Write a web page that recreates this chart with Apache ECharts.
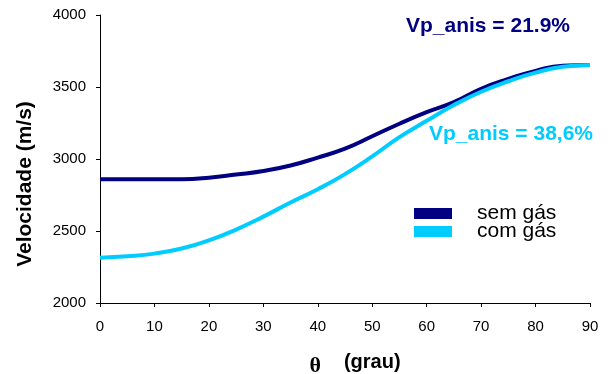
<!DOCTYPE html>
<html>
<head>
<meta charset="utf-8">
<script src="https://cdn.jsdelivr.net/npm/echarts@6/dist/echarts.min.js"></script>
<style>html,body{margin:0;padding:0;background:#fff}#c{width:608px;height:374px}</style>
</head>
<body>
<div id="c"></div>
<script>
var angles = [0,5,10,15,20,25,30,35,40,45,50,55,60,65,70,75,80,85,90];
var semGas = [2860,2860,2860,2860,2870,2892,2917,2955,3010,3072,3158,3245,3325,3395,3488,3556,3612,3648,3652];
var comGas = [2315,2325,2343,2378,2435,2510,2600,2698,2790,2895,3018,3152,3265,3375,3467,3540,3600,3640,3652];
var seriesNames = ['sem gás','com gás'];
var annotations = ['Vp_anis = 21.9%','Vp_anis = 38,6%'];

var F = '"Liberation Sans", Arial, sans-serif';
function pairs(xs, ys){ return xs.map(function(x,i){return [x, ys[i]];}); }
function legendFor(name, top){
  return {
    orient: 'vertical', left: 414, top: top, padding: 0,
    itemWidth: 38, itemHeight: 11, icon: 'rect',
    textStyle: {fontFamily: F, fontSize: 21, color: '#000', padding: [6,0,0,20]},
    data: [name]
  };
}

var chart = echarts.init(document.getElementById('c'));
chart.setOption({
  animation: false,
  grid: {left: 100, right: 18, top: 15, bottom: 71, containLabel: false, outerBoundsMode: 'none'},
  xAxis: {
    type: 'value', min: 0, max: 90, interval: 10,
    axisLine: {show: true, lineStyle: {color: '#000', width: 1}},
    axisTick: {show: true, length: 4, lineStyle: {color: '#000'}},
    splitLine: {show: false},
    axisLabel: {color: '#000', fontFamily: F, fontSize: 15, margin: 16},
    name: '{t|θ}{g|(grau)}',
    nameLocation: 'middle', nameGap: 44,
    nameTextStyle: {
      padding: [0,0,0,20],
      rich: {
        t: {fontFamily: '"Liberation Serif", "Times New Roman", serif', fontSize: 22, fontWeight: 'bold', color: '#000', padding: [8,23,0,0]},
        g: {fontFamily: F, fontSize: 20, fontWeight: 'bold', color: '#000'}
      }
    }
  },
  yAxis: {
    type: 'value', min: 2000, max: 4000, interval: 500,
    axisLine: {show: true, lineStyle: {color: '#000', width: 1}},
    axisTick: {show: true, length: 4, lineStyle: {color: '#000'}},
    splitLine: {show: false},
    axisLabel: {color: '#000', fontFamily: F, fontSize: 15, margin: 14, formatter: function(v){return String(v);}},
    name: 'Velocidade (m/s)',
    nameLocation: 'middle', nameGap: 64, nameRotate: 90,
    nameTextStyle: {fontFamily: F, fontSize: 21, fontWeight: 'bold', color: '#000', padding: [0,50,0,0]}
  },
  legend: [legendFor(seriesNames[0], 203), legendFor(seriesNames[1], 221)],
  series: [
    {name: seriesNames[0], type: 'line', data: pairs(angles, semGas), smooth: true, symbol: 'none',
     lineStyle: {color: '#000080', width: 4}, itemStyle: {color: '#000080'}},
    {name: seriesNames[1], type: 'line', data: pairs(angles, comGas), smooth: true, symbol: 'none',
     lineStyle: {color: '#00CCFF', width: 4}, itemStyle: {color: '#00CCFF'}}
  ],
  graphic: [
    {type: 'text', left: 406, top: 16, style: {text: annotations[0], fill: '#000080', font: 'bold 21px ' + F}},
    {type: 'text', left: 429, top: 124, style: {text: annotations[1], fill: '#00CCFF', font: 'bold 21px ' + F}}
  ]
});
</script>
</body>
</html>
